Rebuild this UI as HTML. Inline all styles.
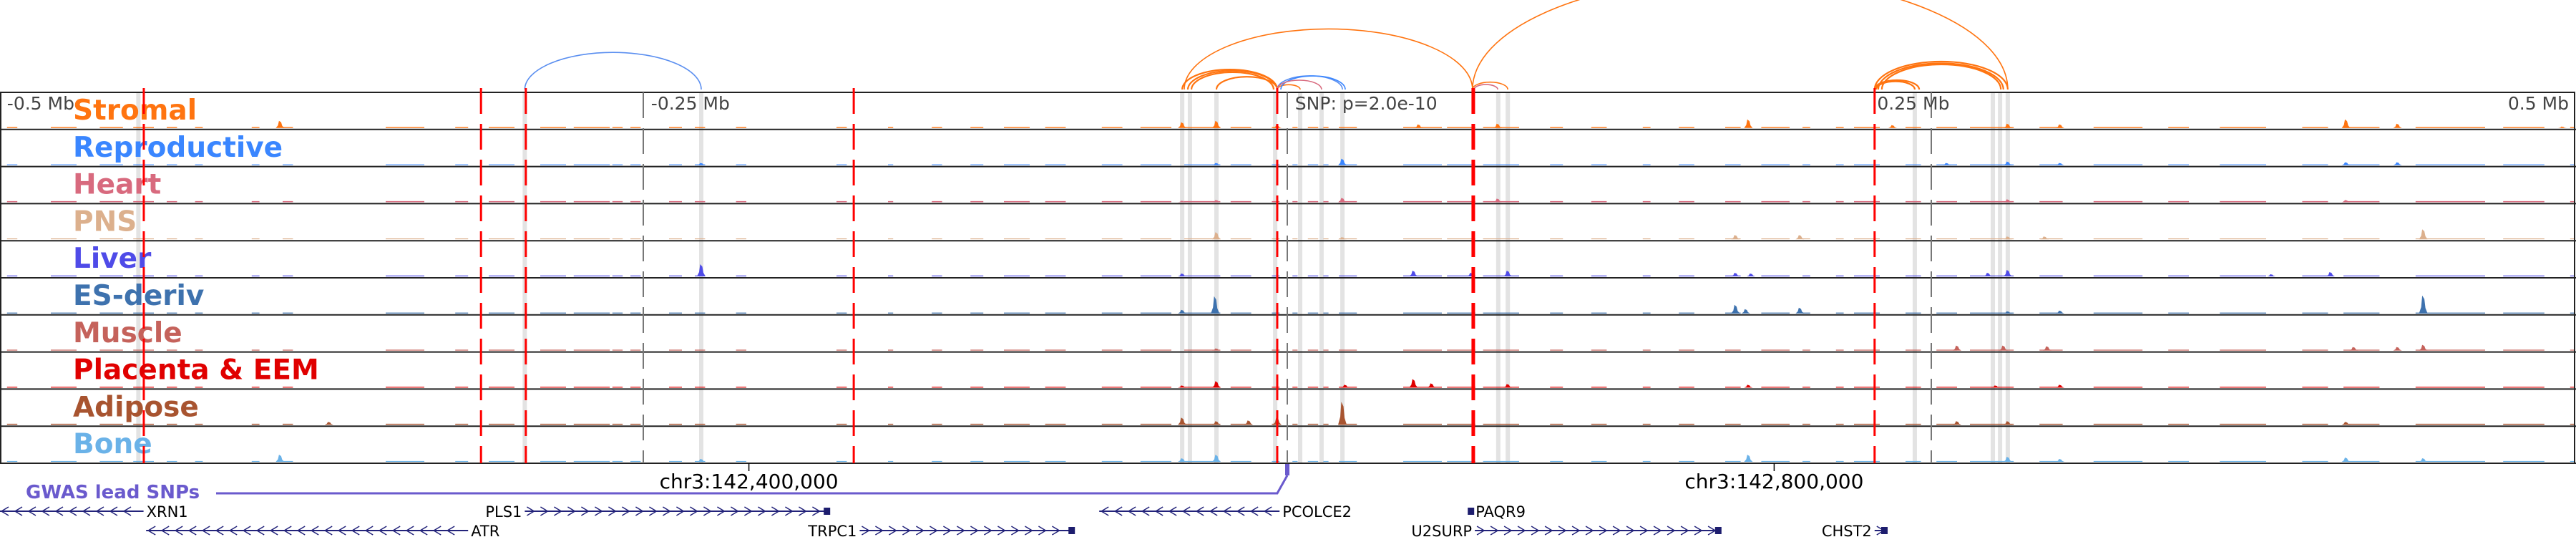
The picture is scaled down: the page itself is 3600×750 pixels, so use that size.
<!DOCTYPE html>
<html><head><meta charset="utf-8">
<style>
html,body{margin:0;padding:0;background:#fff;}
svg{display:block;font-family:"DejaVu Sans","Liberation Sans",sans-serif;}
</style></head>
<body>
<svg id="chart" width="3600" height="750" viewBox="0 0 3600 750" xmlns="http://www.w3.org/2000/svg">
<g id="arcs"></g>
<g id="bands"></g>
<g id="tracks"></g>
<g id="vlines"></g>
<g id="axis"></g>
<g id="genes"></g>
</svg>
<script>
// ---- data (positions in kb relative to the lead SNP) ----
const trackNames = ["Stromal","Reproductive","Heart","PNS","Liver","ES-deriv","Muscle","Placenta & EEM","Adipose","Bone"];
const trackColors = ["#ff7410","#3a86ff","#d86a7e","#dcb08d","#4f4be8","#3e72ae","#c5625b","#e00000","#a85430","#6ab2e8"];
const noiseKb = [[-497,-493],[-461,-452],[-448,-440],[-435,-431],[-424,-421],[-402,-399],[-390,-386],[-277,-263],[-262,-258],[-255,-251],[-230,-226],[-214,-210],[-175,-171],[-155,-153],[-138,-134],[-123,-118],[-110,-100],[-94,-86],[-72,-64],[-57,-45],[-40,-26],[-22,-14],[-6,-3],[2,4],[8,12],[14,16],[20,27],[45,60],[62,73],[76,90],[102,107],[118,124],[138,141],[152,158],[170,176],[184,195],[200,203],[213,216],[220,230],[240,246],[252,260],[265,282],[292,301],[313,332],[342,350],[362,380],[394,404],[410,424],[438,465],[472,488],[498,500],[-480,-470],[-350,-335],[-323,-318],[-310,-300],[-290,-280],[-240,-235]];
const noiseLevel = [1.6,1.2,1.8,1.4,1.4,1.4,1.4,1.4,1.6,1.3];
const peaksStromal = [[-391,10],[-40.8,8],[-27.5,10],[-3.9,4],[81.7,6],[51,5],[179,12],[279.7,6],[235,4],[300,5],[411,12],[431,6],[495,2]];
const peaksRepro = [[21.4,9],[-227.5,3],[279.7,5],[256,3],[300,3],[411,4],[431,4],[-27.5,3]];
const peaksHeart = [[21.4,6],[81.7,5],[-27.5,3],[279.7,4],[-40.8,2],[411,3]];
const peaksPNS = [[-27.5,10],[174,6],[199,6],[441,14],[21.4,3],[279.7,4],[294,4]];
const peaksLiver = [[-227.5,17],[49,8],[85.6,8],[279.7,9],[272,5],[174,5],[180,4],[-40.8,4],[71.4,5],[405,6],[382,3]];
const peaksES = [[-28,24],[174,12],[178,6],[199,8],[441,25],[-40.8,5],[300,4],[279.7,3]];
const peaksMuscle = [[260,7],[278,7],[441,8],[295,6],[-27.5,3],[431,5],[414,5]];
const peaksPlacenta = [[49,12],[56,6],[-27.5,9],[-40.8,3],[85.6,5],[22.5,4],[179,4],[300,4],[275,3]];
const peaksAdipose = [[21.4,32],[-3.9,10],[-40.8,10],[-27.5,5],[-15,6],[260,5],[279.7,5],[411,4],[-372,4]];
const peaksBone = [[-391,10],[-27.5,10],[179,10],[-227.5,4],[279.7,7],[-40.8,5],[300,4],[411,6],[441,5]];
const peakSets = [peaksStromal,peaksRepro,peaksHeart,peaksPNS,peaksLiver,peaksES,peaksMuscle,peaksPlacenta,peaksAdipose,peaksBone];
const arcKbStart = [-40.8,-38.6,-37.2,-27.5,-40,-3.9,71.9,72.5,71.9,228,229.4,230.8,228,228.6,-296,-3.9,-2.5,-3.9];
const arcKbEnd   = [-3.9,-3.9,-5.3,-3.9,71.9,5,85.6,81.7,279.7,279.7,278,277,245.3,243.6,-227.5,21.4,22.5,13.3];
const arcColors  = ["#ff7410","#ff7410","#ff7410","#ff7410","#ff7410","#ff7410","#ff7410","#d86a7e","#ff7410","#ff7410","#ff7410","#ff7410","#ff7410","#ff7410","#5b8ff0","#5b8ff0","#3a86ff","#d86a7e"];
const redLinesKb = [-443.9,-313,-295.6,-168.3,-3.9,72.2,228];
const grayTicksKb = [-250,0,250];
const bandsKb = [-446,-296,-227.5,-40.8,-37.8,-27.5,-4.7,5,13.3,21.4,81.9,85.6,243.6,273.9,276.7,279.7];
const axisLabels = ["-0.5 Mb","-0.25 Mb","SNP: p=2.0e-10","0.25 Mb","0.5 Mb"];
const axisLabelKb = [-497,-247,3,229,497];
const geneNames = ["XRN1","PLS1","PCOLCE2","PAQR9","ATR","TRPC1","U2SURP","CHST2"];
const geneStartKb = [-500,-296,-73,70.5,-443,-166,72.8,228];
const geneEndKb = [-444,-178,-3,72,-318,-83,168,232.5];
const geneStrand = [-1,1,-1,1,-1,1,1,1];
const geneRow = [0,0,0,0,1,1,1,1];
const geneLabelSide = ["right","left","right","right","right","left","left","left"];
const coordLabels = ["chr3:142,400,000","chr3:142,800,000"];
const coordKb = [-209,189];

// ---- scales ----
const X0 = 1799, PXKB = 3.6;
const x = kb => X0 + kb*PXKB;
const TOP = 129, TH = 51.8, NT = 10;
const trackTop = i => TOP + i*TH;
const yScale = v => v*1.0;
const NS = "http://www.w3.org/2000/svg";
function mk(tag, attrs, parent){const e=document.createElementNS(NS,tag);for(const k in attrs)e.setAttribute(k,attrs[k]);parent.appendChild(e);return e;}

// arcs
const gA = document.getElementById('arcs');
for(let i=0;i<arcKbStart.length;i++){
  const a=x(arcKbStart[i]), b=x(arcKbEnd[i]); const r=(b-a)/2; const h=r*0.42;
  const p=mk('path',{d:`M${a},125 A${r},${h} 0 0 1 ${b},125`,fill:'none',stroke:arcColors[i],'stroke-width':i<4||i>8&&i<14?2.2:1.6},gA);
  
  
}
// bands
const gB = document.getElementById('bands');
bandsKb.forEach(k=>{
  const r=mk('rect',{x:x(k)-3,y:TOP,width:6,height:TH*NT,fill:'#e3e3e3'},gB);
  
  
});
// tracks
const gT = document.getElementById('tracks');
for(let t=0;t<NT;t++){
  const g=mk('g',{},gT);
  
  
  const base=trackTop(t)+TH-2;
  noiseKb.forEach((s,j)=>{
    const r=mk('rect',{x:x(s[0]),y:base-yScale(noiseLevel[t])*0.85,width:Math.max(2,(s[1]-s[0])*PXKB),height:yScale(noiseLevel[t])*0.85,fill:trackColors[t]},g);
    
    
  });
  peakSets[t].forEach(p=>{
    const cx=x(p[0]), h=yScale(p[1]);
    const pl=mk('polygon',{points:`${cx-6},${base} ${cx-3},${base-h*0.35} ${cx-1.5},${base-h} ${cx+1.5},${base-h*0.8} ${cx+3},${base-h*0.3} ${cx+6},${base}`,fill:trackColors[t]},g);
    
    
  });
  const sep=mk('line',{x1:0,x2:3600,y1:trackTop(t)+TH,y2:trackTop(t)+TH,stroke:'#222','stroke-width':2},g);
  
  
  const lb=mk('text',{x:102,y:trackTop(t)+38,'font-size':39,'font-weight':'bold',fill:trackColors[t]},g);
  lb.textContent=trackNames[t];
  
  
}
const frame=mk('rect',{x:1,y:TOP,width:3597,height:TH*NT,fill:'none',stroke:'#222','stroke-width':2},gT);


// vertical marker lines
const gV = document.getElementById('vlines');
grayTicksKb.forEach(k=>{
  const l=mk('line',{x1:x(k),x2:x(k),y1:TOP,y2:TOP+TH*NT,stroke:'#777','stroke-width':2,'stroke-dasharray':'36,14'},gV);
  
  
});
redLinesKb.forEach(k=>{
  const l=mk('line',{x1:x(k),x2:x(k),y1:TOP-6,y2:TOP+TH*NT,stroke:'#f00','stroke-width':k>70&&k<75?5:3,'stroke-dasharray':'36,14'},gV);
  
  
});
// axis labels
const gX = document.getElementById('axis');
axisLabels.forEach((s,i)=>{
  const anchor = i===4?'end':'start';
  const tx=mk('text',{x:i===4?3590:x(axisLabelKb[i]),y:153,'font-size':25,fill:'#444','text-anchor':anchor},gX);
  tx.textContent=s;
  
  
});
coordLabels.forEach((s,i)=>{
  const tk=mk('line',{x1:x(coordKb[i]),x2:x(coordKb[i]),y1:647,y2:658,stroke:'#000','stroke-width':1.5},gX);
  
  
  const tx=mk('text',{x:x(coordKb[i]),y:682,'font-size':28,fill:'#000','text-anchor':'middle'},gX);
  tx.textContent=s;
  
  
});
// GWAS lead SNPs
const gG = document.getElementById('genes');
const gw=mk('text',{x:36,y:696,'font-size':26,'font-weight':'bold',fill:'#6a5acd'},gG);
gw.textContent='GWAS lead SNPs';


const gl=mk('polyline',{points:`302,689 ${x(-3.9)},689 ${x(0)},664`,fill:'none',stroke:'#6a5acd','stroke-width':3},gG);


const gs=mk('rect',{x:x(0)-3,y:648,width:6,height:16,fill:'#6a5acd'},gG);


// genes
geneNames.forEach((n,i)=>{
  const g=mk('g',{},gG);
  
  
  const y=geneRow[i]===0?714:741;
  const a=x(geneStartKb[i]), b=x(geneEndKb[i]);
  mk('line',{x1:a,x2:b,y1:y,y2:y,stroke:'#23237a','stroke-width':2},g);
  for(let c=a+8;c<b-6;c+=19){
    const d=geneStrand[i]*5;
    mk('polyline',{points:`${c-d},${y-6} ${c+d},${y} ${c-d},${y+6}`,fill:'none',stroke:'#23237a','stroke-width':1.5},g);
  }
  if(geneStrand[i]>0) mk('rect',{x:b-7,y:y-5,width:9,height:10,fill:'#1d1d6e'},g);
  const lx = geneLabelSide[i]==='right'? b+4 : a-4;
  const tx=mk('text',{x:lx,y:y+8,'font-size':21,fill:'#000','text-anchor':geneLabelSide[i]==='right'?'start':'end'},g);
  tx.textContent=n;
});
</script>
</body></html>
